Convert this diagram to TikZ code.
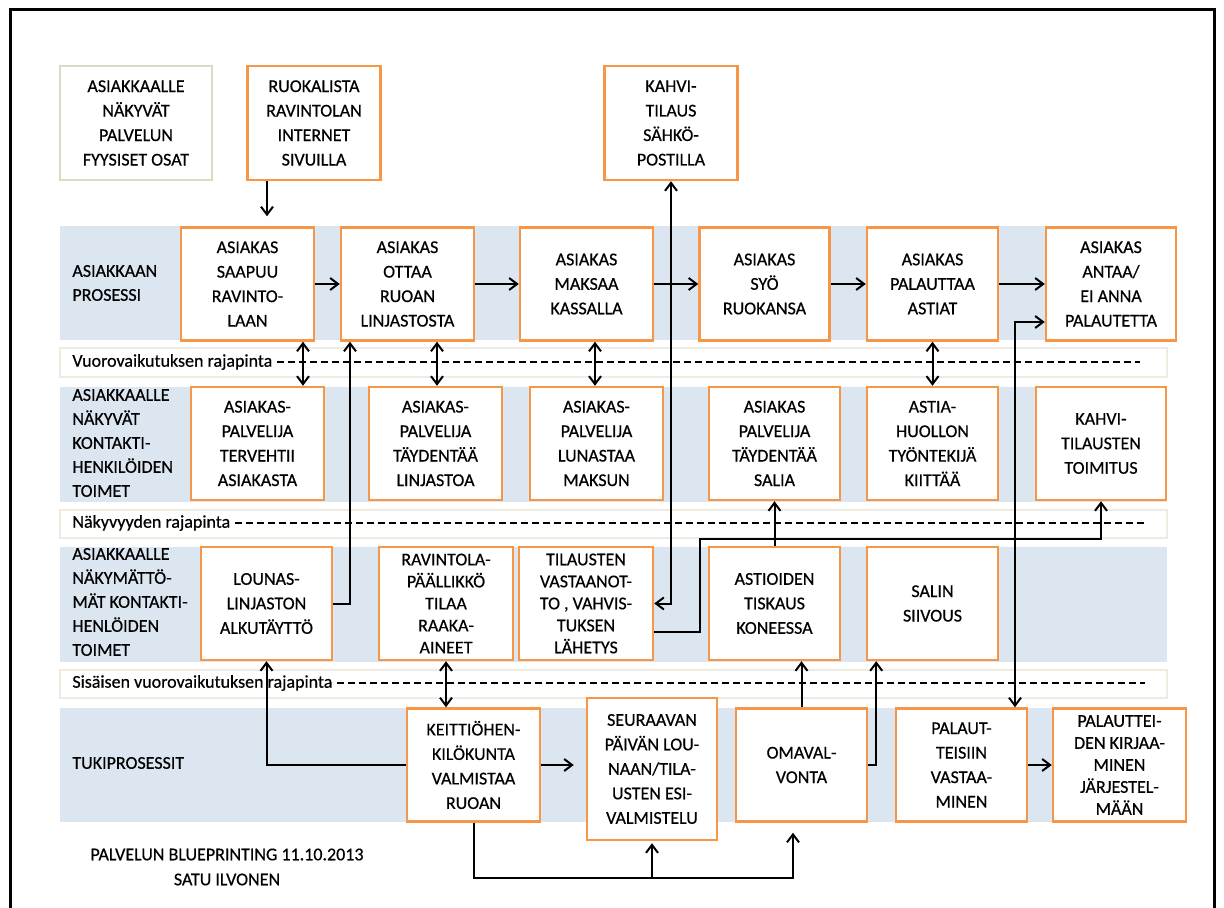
\documentclass[tikz,border=0pt]{standalone}
\usepackage{fontspec}
\setmainfont{Carlito}[FakeBold=0.5]
\usetikzlibrary{arrows.meta,positioning}
\definecolor{boxorange}{HTML}{F79646}
\definecolor{lanefill}{HTML}{DCE6F1}
\definecolor{ifaceline}{HTML}{EEECE1}
\definecolor{physline}{HTML}{DDD9C3}

\begin{document}
\begin{tikzpicture}[
    x=0.5pt, y=-0.5pt,
    proc/.style={draw=boxorange, line width=1.2pt, fill=white, minimum width=66.5pt, minimum height=56.5pt, inner sep=1pt, align=center, font=\fontsize{9}{12.25}\selectfont},
    tight/.style={inner ysep=0pt, font=\fontsize{9}{11}\selectfont},
    lanelabel/.style={anchor=west, align=left, inner sep=0pt, font=\fontsize{9}{12}\selectfont},
    iface/.style={draw=ifaceline, fill=white, line width=0.6pt},
    ifacelabel/.style={anchor=west, inner sep=0pt, font=\fontsize{9}{11}\selectfont},
    dashline/.style={dash pattern=on 3.5pt off 2pt, line width=0.8pt},
    link/.style={-{Straight Barb[length=4pt,width=6pt]}, line width=1pt},
    dlink/.style={{Straight Barb[length=4pt,width=6pt]}-{Straight Barb[length=4pt,width=6pt]}, line width=1pt}
]
\useasboundingbox (0,0) rectangle (1224,908);
\draw[line width=1.5pt] (10,908) -- (10,10) -- (1214,10) -- (1214,908);

% lanes and interfaces
\fill[lanefill] (60,226) rectangle (1167,340);
\fill[lanefill] (60,387) rectangle (1167,502);
\fill[lanefill] (60,547) rectangle (1167,662);
\fill[lanefill] (60,708) rectangle (1167,822);
\draw[iface] (60,348) rectangle (1167,377);
\draw[iface] (60,510) rectangle (1167,538);
\draw[iface] (60,670) rectangle (1167,698);

\node[ifacelabel] (if1) at (72,362) {Vuorovaikutuksen rajapinta};
\node[ifacelabel] (if2) at (72,523) {Näkyvyyden rajapinta};
\node[ifacelabel] (if3) at (72,683) {Sisäisen vuorovaikutuksen rajapinta};
\coordinate (if1end) at (1140,362);
\coordinate (if2end) at (1147,523);
\coordinate (if3end) at (1145,683);
\draw[dashline] ([xshift=2pt]if1.east) -- (if1end);
\draw[dashline] ([xshift=2pt]if2.east) -- (if2end);
\draw[dashline] ([xshift=2pt]if3.east) -- (if3end);

\node[lanelabel] (l1) at (72,283) {ASIAKKAAN\\PROSESSI};
\node[lanelabel] (l2) at (72,443) {ASIAKKAALLE\\NÄKYVÄT\\KONTAKTI-\\HENKILÖIDEN\\TOIMET};
\node[lanelabel] (l3) at (72,602) {ASIAKKAALLE\\NÄKYMÄTTÖ-\\MÄT KONTAKTI-\\HENLÖIDEN\\TOIMET};
\node[lanelabel] (l4) at (72,763) {TUKIPROSESSIT};

% top row
\node[proc, draw=physline, line width=0.8pt, minimum width=76pt, minimum height=57pt] (phys) at (136,123) {ASIAKKAALLE\\NÄKYVÄT\\PALVELUN\\FYYSISET OSAT};
\node[proc, minimum height=57pt] (menu) at (314,123) {RUOKALISTA\\RAVINTOLAN\\INTERNET\\SIVUILLA};
\node[proc, minimum height=57pt] (coffee) at (671,123) {KAHVI-\\TILAUS\\SÄHKÖ-\\POSTILLA};

% customer process
\node[proc] (arrive) at (247.5,284) {ASIAKAS\\SAAPUU\\RAVINTO-\\LAAN};
\node[proc] (take) at (407.5,284) {ASIAKAS\\OTTAA\\RUOAN\\LINJASTOSTA};
\node[proc] (pay) at (586.5,284) {ASIAKAS\\MAKSAA\\KASSALLA};
\node[proc, minimum width=65pt] (eat) at (764.5,284) {ASIAKAS\\SYÖ\\RUOKANSA};
\node[proc, minimum width=65.5pt] (ret) at (932.5,284) {ASIAKAS\\PALAUTTAA\\ASTIAT};
\node[proc, minimum width=65pt] (fb) at (1111,284) {ASIAKAS\\ANTAA/\\EI ANNA\\PALAUTETTA};

% visible contact staff
\node[proc] (greet) at (257.5,443.5) {ASIAKAS-\\PALVELIJA\\TERVEHTII\\ASIAKASTA};
\node[proc] (fill) at (435.5,443.5) {ASIAKAS-\\PALVELIJA\\TÄYDENTÄÄ\\LINJASTOA};
\node[proc] (cash) at (596.5,443.5) {ASIAKAS-\\PALVELIJA\\LUNASTAA\\MAKSUN};
\node[proc, minimum width=65.5pt] (hall) at (774.5,443.5) {ASIAKAS\\PALVELIJA\\TÄYDENTÄÄ\\SALIA};
\node[proc, minimum width=65.5pt] (dish) at (932.5,443.5) {ASTIA-\\HUOLLON\\TYÖNTEKIJÄ\\KIITTÄÄ};
\node[proc, minimum width=65pt] (deliv) at (1101,443.5) {KAHVI-\\TILAUSTEN\\TOIMITUS};

% invisible contact staff
\node[proc, minimum width=65.5pt] (prefill) at (266.5,603.5) {LOUNAS-\\LINJASTON\\ALKUTÄYTTÖ};
\node[proc, tight, minimum width=67pt] (order) at (446,603.5) {RAVINTOLA-\\PÄÄLLIKKÖ\\TILAA\\RAAKA-\\AINEET};
\node[proc, tight, minimum width=67pt] (recv) at (586,603.5) {TILAUSTEN\\VASTAANOT-\\TO , VAHVIS-\\TUKSEN\\LÄHETYS};
\node[proc, minimum width=65.5pt] (wash) at (774.5,603.5) {ASTIOIDEN\\TISKAUS\\KONEESSA};
\node[proc, minimum width=65.5pt] (clean) at (932.5,603.5) {SALIN\\SIIVOUS};

% support processes
\node[proc] (cook) at (473.5,765) {KEITTIÖHEN-\\KILÖKUNTA\\VALMISTAA\\RUOAN};
\node[proc, minimum width=65pt, minimum height=71pt] (next) at (652,769) {SEURAAVAN\\PÄIVÄN LOU-\\NAAN/TILA-\\USTEN ESI-\\VALMISTELU};
\node[proc, minimum width=65.5pt] (self) at (801.5,765) {OMAVAL-\\VONTA};
\node[proc, minimum width=65.5pt] (reply) at (961.5,765) {PALAUT-\\TEISIIN\\VASTAA-\\MINEN};
\node[proc, tight] (log) at (1119.5,765) {PALAUTTEI-\\DEN KIRJAA-\\MINEN\\JÄRJESTEL-\\MÄÄN};

\node[align=center, font=\fontsize{9}{12.5}\selectfont] (sign) at (227,867) {PALVELUN BLUEPRINTING 11.10.2013\\SATU ILVONEN};

% connectors
\draw[link, shorten >=5pt] ([xshift=-23.5pt]menu.south) -- ([xshift=-23.5pt]menu.south |- arrive.north);
\foreach \a/\b in {arrive/take, take/pay, pay/eat, eat/ret, ret/fb}
    \draw[link] (\a.east) -- (\b.west);
\foreach \a/\b/\s in {arrive/greet/27.75pt, take/fill/14.75pt, pay/cash/4.25pt, ret/dish/0pt}
    \draw[dlink] ([xshift=\s]\a.south) -- ([xshift=\s]\a.south |- \b.north);
\draw[link] (prefill.east) -| ([xshift=-28.75pt]take.south);
\draw[dlink] (coffee.south) |- (recv.east);
\draw[link] ([yshift=-14.25pt]recv.east) -- ++(23pt,0) |- ([yshift=-19pt]deliv.south) -- (deliv.south);
\draw[link] (wash.north) -- (hall.south);
\draw[link] (self.north) -- (self.north |- wash.south);
\draw[link] (self.east) -- ++(4pt,0) coordinate (sc) -- (sc |- clean.south);
\draw[dlink] ([yshift=-19pt]fb.west) -| ([xshift=26.75pt]reply.north);
\draw[link] (reply.east) -- (log.west);
\draw[link] (cook.west) -| (prefill.south);
\draw[dlink] (order.south) -- (order.south |- cook.north);
\draw[link, shorten >=6pt] (cook.east) -- (cook.east -| next.west);
\draw[link] (cook.south) -- ++(0,-27.5pt) coordinate (base) -| ([xshift=-4.25pt,yshift=-5pt]self.south);
\draw[link] (base -| next.south) -- ([yshift=-1pt]next.south);
\end{tikzpicture}
\end{document}
